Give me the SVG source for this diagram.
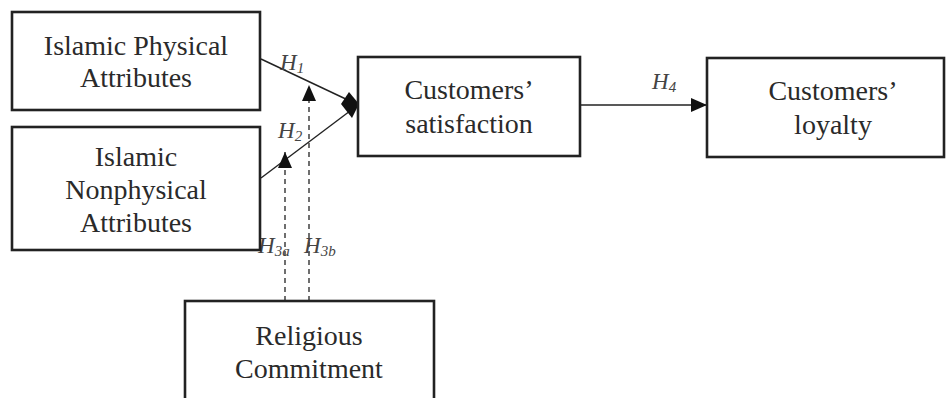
<svg xmlns="http://www.w3.org/2000/svg" width="946" height="398" viewBox="0 0 946 398">
<defs>
<style>
.box{fill:#fff;stroke:#222;stroke-width:2.6}
.t{font-family:"Liberation Serif","Times New Roman",serif;font-size:28px;fill:#2a2a2a;text-anchor:middle}
.h{font-family:"Liberation Serif","Times New Roman",serif;font-size:23px;font-style:italic;fill:#444}
.sub{font-size:15px}
.ln{stroke:#222;stroke-width:1.4;fill:none}
.dash{stroke:#222;stroke-width:1.3;fill:none;stroke-dasharray:5,4}
</style>
<marker id="ah" viewBox="0 0 16 14" refX="16" refY="7" markerWidth="16" markerHeight="14" markerUnits="userSpaceOnUse" orient="auto">
<path d="M0,0 L16,7 L0,14 Z" fill="#111"/>
</marker>
</defs>
<rect width="946" height="398" fill="#fff"/>
<g id="connectors">
<line class="ln" x1="261" y1="59" x2="350" y2="101"/>
<line class="ln" x1="261" y1="178" x2="350" y2="111"/>
<polygon points="341,104 349,92 359,104 352,118" fill="#111"/>
<line class="ln" x1="580" y1="105" x2="707" y2="105" marker-end="url(#ah)"/>
<line class="dash" x1="285" y1="301" x2="285" y2="152" marker-end="url(#ah)"/>
<line class="dash" x1="309" y1="301" x2="309" y2="85" marker-end="url(#ah)"/>
<text class="h" x="280" y="70">H<tspan class="sub" dy="3">1</tspan></text>
<text class="h" x="278" y="138">H<tspan class="sub" dy="3">2</tspan></text>
<text class="h" x="258" y="253">H<tspan class="sub" dy="3">3a</tspan></text>
<text class="h" x="304" y="253">H<tspan class="sub" dy="3">3b</tspan></text>
<text class="h" x="652" y="89">H<tspan class="sub" dy="3">4</tspan></text>
</g>
<g id="n1">
<rect class="box" x="12" y="12" width="248" height="98"/>
<text class="t" x="136" y="55">Islamic Physical</text>
<text class="t" x="136" y="87">Attributes</text>
</g>
<g id="n2">
<rect class="box" x="12" y="127" width="248" height="123"/>
<text class="t" x="136" y="166">Islamic</text>
<text class="t" x="136" y="199">Nonphysical</text>
<text class="t" x="136" y="232">Attributes</text>
</g>
<g id="n3">
<rect class="box" x="358" y="57" width="222" height="99"/>
<text class="t" x="469" y="99">Customers’</text>
<text class="t" x="469" y="133">satisfaction</text>
</g>
<g id="n4">
<rect class="box" x="707" y="58" width="237" height="99"/>
<text class="t" x="833" y="100">Customers’</text>
<text class="t" x="833" y="134">loyalty</text>
</g>
<g id="n5">
<rect class="box" x="185" y="301" width="249" height="110"/>
<text class="t" x="309" y="345">Religious</text>
<text class="t" x="309" y="378">Commitment</text>
</g>
</svg>
